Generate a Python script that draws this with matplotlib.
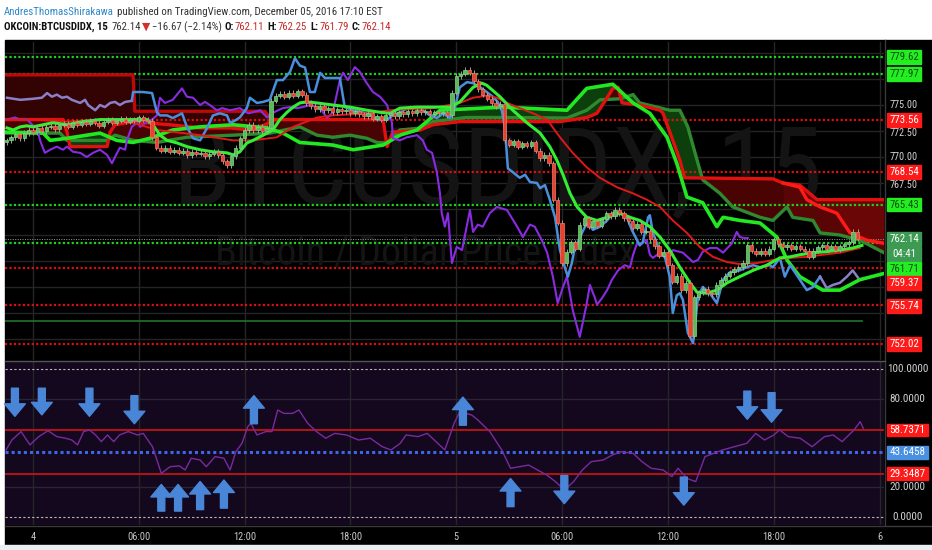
import matplotlib
matplotlib.use('Agg')
import matplotlib.pyplot as plt
import matplotlib.transforms as mtransforms
from matplotlib import font_manager
from matplotlib.lines import Line2D
from matplotlib.patches import Rectangle
import numpy as np

# pick the narrowest sans family that is installed
_installed = {f.name for f in font_manager.fontManager.ttflist}
_narrow = [n for n in ['Liberation Sans Narrow', 'Roboto Condensed', 'DejaVu Sans Condensed', 'Roboto']
           if n in _installed]
NARROW = _narrow[:1] + ['DejaVu Sans']

# ---------------- data ----------------
# 15 min closes, bar -6 .. 187  (bar 0 = Dec 4 00:00)
first_bar = -6
first_open = 771.4
closes = [
    771.6, 771.9, 772.2, 771.8, 772.3, 772.6, 772.4,
    772.8, 772.5, 772.9, 773.0, 772.7, 773.1, 773.2, 772.9, 773.3, 773.1,
    773.4, 773.2, 773.5, 773.3, 773.0, 773.4, 773.6, 773.3, 773.5, 773.7,
    773.4, 773.6, 773.5, 773.8, 773.6, 773.5, 771.9,
    770.9, 770.6, 770.9, 770.5, 770.7, 770.4, 770.6, 770.2, 770.5, 770.3,
    770.4, 770.1, 770.3, 770.5, 770.2, 769.6, 769.2, 770.1, 770.9,
    771.8, 772.6, 773.1, 772.6, 772.9, 772.5, 772.8,
    775.4, 775.9, 776.1, 775.8, 776.2, 775.9, 776.3, 776.0, 775.2,
    774.9, 774.6, 774.9, 774.5, 774.7, 774.3, 774.6, 774.4, 774.5, 774.2,
    774.4, 774.1, 773.9, 774.2, 773.7, 773.9, 773.6, 774.0, 774.2, 773.9,
    774.3, 774.1, 774.4, 774.2, 774.5, 774.3, 774.4, 774.1, 774.3, 774.2,
    774.3, 774.0, 776.2, 777.8,
    778.0, 778.4, 778.1, 777.3, 776.5, 776.0, 775.6, 775.2,
    774.9, 775.1, 771.6, 771.2, 771.5, 771.0, 771.3,
    771.1, 771.4, 770.6, 769.9, 770.2, 769.4,
    765.9, 763.7, 759.8, 760.9, 761.8, 761.2,
    763.5, 764.1, 763.3, 763.8, 763.4, 764.0, 764.6, 764.3,
    764.9, 764.6, 764.1, 763.8, 763.2, 763.6, 762.8,
    762.9, 762.1, 761.4, 760.5, 760.9, 759.6, 758.0,
    758.6, 757.2, 757.9, 752.8, 756.5, 757.0,
    757.3, 756.9, 756.8, 757.7, 758.2, 758.6, 758.9,
    759.2, 759.4, 759.8, 761.5, 761.0, 760.7, 761.0,
    760.7, 761.2, 762.1, 761.6, 761.3, 761.5, 761.2,
    761.4, 761.2, 761.0, 760.4, 761.0, 761.3, 761.5, 761.2,
    761.4, 761.1, 761.4, 761.6, 761.8, 762.8, 762.14,
]

tick_bars = [0, 24, 48, 72, 96, 120, 144, 168, 192]
tick_labels = ['4', '06:00', '12:00', '18:00', '5', '06:00', '12:00', '18:00', '6']

green_levels = [779.62, 777.97, 765.43, 761.71]
red_levels = [773.56, 768.54, 759.37, 755.74, 752.02]
last_price = 762.14
support_level = 754.26

lavender_left = [(-5.9, 775.7), (-2.9, 775.5), (0, 775.6), (2.0, 775.7), (3.2, 776.15), (4.3, 775.8),
                 (5.4, 776.0), (6.6, 775.7), (7.7, 775.8), (8.8, 775.5), (10.7, 775.2), (11.8, 775.5),
                 (12.5, 775.0), (14.1, 774.5), (15.2, 775.0), (16.3, 774.8), (17.5, 775.2), (18.6, 775.3),
                 (19.7, 775.0), (20.9, 775.3), (22.4, 775.4)]
blue_line = [(22.4, 775.4), (22.7, 776.25), (24.9, 776.25), (27.0, 776.15), (28.1, 774.3), (28.8, 774.0),
             (30.4, 774.0), (31.7, 773.75), (33.8, 774.2), (34.9, 772.9), (36.3, 771.8), (37.9, 771.6),
             (39.5, 772.8), (40.8, 774.0), (42.4, 774.2), (44.0, 774.0), (44.7, 773.3), (45.4, 773.4),
             (46.9, 773.8), (48.5, 774.7), (49.2, 775.7), (50.8, 775.2), (52.2, 775.3), (53.7, 775.5),
             (55.3, 777.4), (56.7, 777.4), (58.3, 778.2), (59.4, 779.5), (60.5, 778.8), (61.7, 778.6),
             (62.8, 776.25), (63.9, 776.25), (65.1, 778.1), (66.2, 777.6), (68.0, 777.6), (69.6, 777.6),
             (70.7, 774.8), (72.6, 774.5), (75.7, 774.2), (78.0, 773.6), (80.3, 773.6), (81.6, 774.0),
             (83.2, 774.3), (85.5, 774.8), (87.8, 774.7), (90.0, 774.0), (91.6, 773.75), (93.0, 774.2),
             (94.6, 773.75), (95.7, 774.8), (96.8, 776.7), (98.4, 777.2), (99.8, 777.1), (101.4, 776.7),
             (102.9, 776.25), (104.3, 775.8), (105.4, 775.3), (106.3, 774.5), (107.0, 772.9),
             (107.7, 768.9), (108.8, 768.55), (110.4, 768.0), (111.6, 768.3), (112.7, 767.6),
             (114.3, 767.5), (115.0, 767.0), (116.1, 767.3), (117.2, 765.9), (118.4, 764.2),
             (119.5, 761.05), (120.6, 759.4), (121.3, 758.5), (122.2, 759.8), (122.9, 761.35),
             (123.6, 761.8), (124.5, 762.7), (125.2, 763.3), (125.9, 763.65), (127.0, 763.0),
             (128.6, 763.3), (130.2, 763.9), (131.5, 764.6), (133.1, 764.6), (134.7, 764.2),
             (135.8, 763.0), (137.0, 762.0), (137.6, 761.5), (138.3, 761.8), (139.5, 764.2),
             (139.9, 764.4), (140.6, 762.7), (142.2, 760.9), (143.3, 760.4), (144.4, 758.5),
             (145.1, 755.0), (146.0, 756.7), (146.7, 756.9), (147.4, 756.25), (148.5, 753.1),
             (149.7, 752.1), (150.8, 756.5), (151.9, 757.5), (153.5, 756.9), (155.1, 755.95),
             (156.5, 758.2), (158.0, 758.9), (160.3, 759.1), (161.9, 759.4), (163.3, 759.6),
             (164.9, 759.4), (167.1, 759.6), (167.8, 759.4), (169.4, 760.3), (170.5, 758.5),
             (171.7, 759.6), (173.2, 758.65), (175.5, 757.2), (176.9, 757.5), (178.5, 758.5)]
lavender_right = [(178.5, 758.5), (180.0, 757.4), (181.4, 757.7), (183.0, 757.9), (184.6, 758.5),
                  (185.9, 759.1), (187.1, 758.4)]
purple_line = [(-6.35, 773.65), (-5.9, 773.6), (-4.1, 773.8), (-2.9, 773.6), (-1.4, 773.65), (-0.2, 773.1),
               (0.9, 772.8), (1.6, 771.6), (2.7, 770.4), (3.9, 770.7), (5.4, 771.0), (6.8, 770.7),
               (7.7, 771.0), (9.1, 770.5), (10.7, 770.4), (12.2, 770.0), (13.6, 770.4), (15.2, 770.7),
               (16.8, 770.2), (17.9, 769.4), (18.6, 770.0), (19.7, 770.9), (20.9, 770.7), (21.3, 771.6),
               (22.4, 772.9), (23.6, 773.3), (24.3, 772.9), (25.9, 773.4), (27.0, 773.6), (28.1, 774.0),
               (28.8, 775.7), (29.9, 775.2), (31.7, 775.5), (33.8, 776.6), (34.9, 775.8), (36.3, 775.7),
               (37.9, 775.0), (39.0, 775.3), (40.1, 775.0), (41.7, 774.5), (42.9, 774.7), (44.7, 774.5),
               (46.9, 774.7), (48.8, 774.2), (49.9, 774.3), (51.5, 774.5), (53.1, 773.8), (54.2, 774.2),
               (55.6, 774.5), (56.7, 774.7), (58.3, 774.8), (59.9, 774.7), (61.2, 774.8), (62.8, 775.0),
               (65.1, 774.7), (66.7, 773.75), (68.0, 774.3), (69.6, 777.4), (70.3, 778.1), (71.4, 777.4),
               (73.0, 778.65), (74.1, 778.2), (75.7, 777.1), (77.1, 776.25), (78.7, 775.8), (80.3, 775.0),
               (81.4, 773.3), (81.6, 771.8), (83.2, 771.6), (84.8, 771.9), (87.1, 772.1), (88.4, 771.6),
               (89.3, 770.7), (90.5, 770.4), (91.6, 768.5), (92.3, 766.5), (92.7, 764.6), (93.4, 763.3),
               (94.1, 764.6), (95.0, 759.8), (96.1, 761.35), (97.3, 761.05), (99.1, 764.9), (99.8, 762.8),
               (100.9, 763.5), (102.0, 763.3), (103.6, 764.6), (105.2, 765.2), (107.5, 764.9),
               (109.8, 763.3), (111.1, 762.3), (112.7, 763.5), (113.8, 763.3), (115.4, 762.0),
               (116.6, 760.8), (117.9, 758.5), (119.0, 755.95), (120.2, 757.5), (121.1, 758.5),
               (122.4, 755.3), (124.0, 752.7), (125.6, 755.95), (126.3, 757.7), (127.4, 756.5),
               (127.9, 755.8), (129.0, 756.4), (130.2, 757.2), (131.3, 758.2), (132.7, 759.1),
               (134.2, 759.6), (135.4, 759.4), (136.1, 760.6), (137.0, 761.7), (138.1, 761.7),
               (139.2, 762.0), (139.9, 760.6), (140.6, 760.3), (142.2, 760.8), (143.8, 760.1),
               (145.1, 761.05), (147.4, 760.8), (149.7, 759.9), (150.8, 760.1), (151.9, 760.9),
               (153.5, 761.25), (155.1, 761.25), (156.5, 760.8), (158.5, 761.7), (159.6, 762.8),
               (160.3, 762.3), (161.4, 762.2), (162.1, 762.2)]
fast_ma = [(-5.9, 772.8), (-4.5, 772.6), (-2.9, 772.9), (-1.4, 773.0), (0, 772.9), (2.3, 773.1), (4.5, 773.3),
           (7.7, 773.1), (11.3, 773.4), (15.2, 773.6), (19.0, 773.6), (22.7, 773.6), (25.9, 773.6),
           (27.2, 773.1), (28.8, 772.1), (30.4, 771.6), (32.7, 771.35), (34.9, 771.0), (37.9, 770.7),
           (40.8, 770.5), (44.0, 770.4), (45.4, 770.2), (46.9, 770.5), (48.5, 771.35), (49.9, 771.6),
           (52.2, 772.1), (54.4, 772.6), (56.0, 773.6), (57.6, 774.3), (59.0, 774.8), (60.5, 775.2),
           (62.1, 775.3), (64.4, 775.2), (68.0, 775.0), (71.9, 774.8), (75.7, 774.5), (78.7, 774.3),
           (81.0, 774.2), (83.2, 774.7), (87.1, 774.8), (90.7, 774.8), (94.6, 774.8), (96.8, 775.3),
           (99.8, 776.7), (101.8, 777.1), (102.9, 776.9), (105.9, 775.8), (108.8, 774.5), (112.0, 773.3),
           (115.0, 772.3), (117.2, 771.0), (118.8, 769.7), (120.2, 768.3), (121.8, 766.5), (123.4, 765.2),
           (125.6, 764.2), (127.9, 763.9), (130.2, 764.2), (133.1, 764.6), (135.4, 764.2), (137.6, 763.9),
           (139.9, 763.3), (142.2, 762.3), (144.4, 761.05), (146.7, 759.4), (149.0, 757.9), (150.6, 757.0),
           (152.8, 756.9), (155.1, 757.2), (157.4, 757.9), (160.3, 758.5), (163.3, 759.1), (166.4, 759.6),
           (169.4, 760.3), (171.7, 760.4), (173.9, 760.6), (176.9, 760.8), (180.0, 760.9), (183.0, 761.05),
           (185.9, 761.25), (188.0, 761.5)]
slow_ma = [(-6.35, 773.6), (0, 773.6), (7.7, 773.4), (15.2, 773.6), (22.7, 773.3), (28.1, 772.6), (34.0, 772.3),
           (37.9, 772.1), (45.4, 771.6), (49.9, 771.6), (55.3, 771.9), (59.0, 772.9), (64.4, 773.8),
           (68.0, 774.0), (75.7, 774.2), (81.0, 774.5), (90.7, 774.7), (96.8, 775.2), (99.8, 775.7),
           (102.9, 775.9), (105.2, 775.7), (107.5, 775.2), (110.4, 774.7), (113.4, 774.2), (116.6, 773.6),
           (119.5, 771.9), (122.4, 770.4), (125.6, 769.0), (128.6, 768.0), (132.4, 767.1), (136.1, 766.5),
           (139.2, 765.9), (142.2, 765.2), (145.1, 763.9), (148.3, 762.7), (151.2, 761.35), (154.2, 760.4),
           (157.4, 759.9), (160.3, 759.7), (164.2, 759.8), (167.8, 760.1), (171.7, 760.3), (175.5, 760.4),
           (179.1, 760.6), (183.0, 760.8), (187.5, 761.25)]
kumo_top_left = [(-6.35, 777.9), (22.7, 777.9), (23.1, 774.4), (52.6, 774.4), (53.7, 773.75), (54.9, 773.6)]
span_red = [(-6.35, 773.6), (6.8, 773.6), (7.7, 772.4), (8.4, 771.0), (16.8, 771.0), (17.5, 772.4), (18.6, 773.1),
            (22.7, 773.4), (31.1, 773.1), (37.9, 772.8), (44.7, 772.8), (49.2, 772.6), (52.6, 773.1),
            (54.9, 773.6), (79.4, 773.6), (80.3, 771.0), (81.6, 772.4), (87.8, 772.6), (90.7, 773.1),
            (96.8, 773.4), (119.5, 773.4), (125.6, 773.8), (127.9, 774.2), (130.2, 775.7), (131.5, 776.6),
            (132.7, 776.7), (133.6, 775.2), (137.6, 775.0), (142.2, 774.5), (142.9, 774.2), (145.1, 771.6),
            (146.7, 769.7), (147.8, 768.0), (167.8, 767.9), (170.1, 767.5), (173.9, 767.3), (177.8, 765.9),
            (193.0, 765.9)]
span_red_fall = [(170.1, 767.5), (173.9, 767.1), (175.5, 765.9), (178.5, 765.2), (182.3, 764.6), (185.3, 762.7),
                 (189.1, 762.0), (193.0, 761.7)]
span_dark = [(-6.35, 772.3), (6.1, 772.3), (7.7, 771.6), (16.8, 771.6), (18.6, 772.1), (22.7, 771.6),
             (28.1, 771.4), (34.9, 771.9), (45.4, 772.1), (53.7, 772.3), (60.5, 772.9), (64.4, 772.1),
             (68.0, 771.9), (71.9, 772.1), (75.7, 771.8), (78.0, 771.4), (80.3, 771.35), (83.2, 772.6),
             (88.4, 772.8), (90.7, 773.4), (98.2, 773.8), (105.9, 773.8), (121.1, 773.75), (125.6, 774.5),
             (128.6, 775.5), (133.1, 775.6), (136.1, 776.0), (137.6, 775.2), (144.4, 774.5), (146.7, 774.5),
             (148.5, 772.9), (150.6, 769.7), (151.9, 767.8), (155.8, 766.5), (158.7, 765.2), (164.9, 764.2),
             (167.8, 763.9), (171.0, 765.2), (172.3, 764.2), (176.9, 763.9), (178.5, 762.7), (183.0, 762.5),
             (187.5, 762.0), (193.0, 760.8)]
span_bright = [(-6.35, 772.4), (2.3, 772.3), (3.9, 771.6), (7.7, 771.8), (12.2, 772.1), (15.2, 772.3),
               (19.0, 771.6), (22.7, 771.4), (26.5, 771.8), (31.7, 772.6), (37.9, 772.9), (45.4, 773.1),
               (53.1, 772.8), (56.7, 772.3), (60.5, 771.4), (68.0, 771.15), (72.6, 770.7), (79.4, 771.15),
               (83.2, 772.1), (87.1, 772.6), (92.3, 774.5), (106.6, 774.8), (121.1, 774.5), (125.6, 776.6),
               (131.5, 777.0), (136.1, 775.2), (139.9, 774.2), (143.8, 771.9), (146.0, 769.4), (148.3, 766.15),
               (151.9, 765.6), (155.1, 763.3), (156.5, 764.2), (160.3, 763.9), (164.9, 763.65), (168.7, 762.3),
               (171.0, 760.1), (173.9, 758.5), (179.1, 757.2), (183.0, 757.2), (187.5, 758.2), (193.0, 758.8)]

osc_line = [(-6.1, 45.3), (-4.8, 52.0), (-2.7, 57.7), (-0.7, 48.7), (1.3, 54.3), (3.4, 58.3), (5.4, 54.3),
            (7.4, 53.2), (8.8, 52.0), (10.1, 48.7), (11.5, 57.7), (12.8, 58.8), (14.2, 55.4), (15.5, 50.9),
            (16.9, 55.4), (18.3, 50.9), (19.6, 55.4), (21.6, 57.7), (23.7, 55.4), (25.0, 56.5), (27.1, 47.5),
            (29.1, 29.5), (31.1, 34.0), (33.2, 34.5), (34.5, 31.8), (35.9, 39.7), (37.9, 38.5), (39.3, 34.0),
            (41.3, 40.8), (43.3, 39.7), (44.7, 31.8), (46.0, 44.1), (47.4, 49.8), (48.7, 61.0), (49.4, 63.3),
            (50.8, 55.4), (52.8, 57.7), (54.2, 57.7), (55.5, 72.3), (56.9, 70.0), (58.9, 70.0), (60.3, 72.3),
            (62.3, 63.3), (64.3, 57.7), (66.4, 53.2), (68.4, 56.5), (71.1, 55.4), (73.8, 52.0), (76.5, 53.2),
            (79.2, 47.5), (81.2, 45.3), (83.3, 49.8), (84.6, 55.4), (87.3, 54.3), (89.4, 56.5), (91.4, 50.9),
            (93.4, 45.3), (95.5, 63.3), (96.8, 71.2), (99.5, 68.9), (100.9, 65.5), (103.6, 57.7),
            (106.3, 45.3), (108.3, 32.9), (110.4, 34.0), (112.4, 35.1), (114.4, 31.8), (116.5, 28.4),
            (118.5, 23.9), (120.5, 18.3), (122.6, 23.9), (124.6, 31.8), (126.6, 37.4), (129.3, 38.5),
            (131.4, 41.9), (133.4, 44.1), (136.1, 43.0), (138.1, 37.4), (140.2, 32.9), (142.9, 31.8),
            (144.9, 27.3), (146.3, 32.9), (148.3, 26.1), (150.3, 23.9), (152.4, 40.8), (154.4, 43.0),
            (156.4, 45.3), (159.1, 47.5), (161.9, 49.8), (163.9, 56.5), (165.9, 52.0), (168.0, 55.4),
            (169.3, 58.8), (171.3, 54.3), (174.0, 53.2), (176.7, 47.5), (179.5, 54.3), (181.5, 55.4),
            (183.5, 50.9), (186.2, 58.8), (187.6, 64.4), (188.3, 59.9)]
osc_upper, osc_mid, osc_lower = 58.7371, 43.6458, 29.3487

# signal arrows: (bar, tail value, tip value)
signal_arrows = [(-4.1, 87, 68), (2.0, 87, 69), (12.8, 87, 68), (23.0, 82, 63), (162.0, 85, 66), (167.5, 84, 64),
                 (50.1, 63, 82), (97.5, 62, 81),
                 (29.1, 4, 22), (32.9, 4, 22), (37.9, 5, 24), (43.3, 6, 25), (108.3, 7, 26),
                 (120.5, 28, 9), (147.6, 27, 8)]

main_labels = ['779.62', '777.97', '775.00', '773.56', '772.50', '770.00', '768.54', '767.50',
               '765.43', '762.14', '04:41', '761.71', '759.37', '755.74', '752.02']
main_label_pos = [779.62, 777.97, 775.00, 773.56, 772.30, 770.00, 768.54, 767.30,
                  765.43, 762.14, 760.67, 759.23, 757.88, 755.67, 752.02]
main_label_kind = ['g', 'g', 'p', 'r', 'p', 'p', 'r', 'p', 'g', 'c', 'c', 'g', 'r', 'r', 'r']
osc_labels = ['100.0000', '80.0000', '58.7371', '43.6458', '29.3487', '20.0000', '0.0000']
osc_label_pos = [100, 80, 58.7371, 43.6458, 29.3487, 20, 0]
osc_label_kind = ['p', 'p', 'r', 'b', 'r', 'p', 'p']

# ---------------- figure ----------------
W, H = 932, 550
fig = plt.figure(figsize=(W / 100, H / 100), dpi=100, facecolor='white')
renderer = fig.canvas.get_renderer()


def fx(px):
    return px / W


def fy(py):
    return 1 - py / H


def fit_width(t, target_px):
    # scale the font so the text spans target_px
    w = t.get_window_extent(renderer).width
    t.set_fontsize(t.get_fontsize() * target_px / w)


fig.patches.append(Rectangle((fx(5), fy(545)), fx(927), 505 / H, transform=fig.transFigure,
                             color='black', zorder=-5))
fig.patches.append(Rectangle((0, 0), 1, 5 / H, transform=fig.transFigure, color='#eceff2', zorder=-5))

ax = fig.add_axes([fx(5), fy(360), fx(879), 318 / H], facecolor='black')
ax2 = fig.add_axes([fx(5), fy(525), fx(879), 163 / H], facecolor='#13081e')
for a in (ax, ax2):
    for s in a.spines.values():
        s.set_visible(False)
    a.set_xlim(-6.35, 193.0)
    for b in tick_bars:
        a.axvline(b, color='#262626', lw=1, zorder=0.2)
ax.set_ylim(750.48, 781.06)
ax2.set_ylim(-5.4, 104.7)
ax.set_xticks([])
ax.set_yticks([])
ax2.set_yticks([])

for v in np.arange(752.5, 781, 2.5):
    ax.axhline(v, color='#242424', lw=1, zorder=0.2)
for v in (20, 80):
    ax2.axhline(v, color='#2c2433', lw=1, zorder=0.2)

# watermark
wm = ax.text(0.56, 0.585, 'BTCUSDIDX, 15', transform=ax.transAxes, ha='center', va='center',
             fontsize=60, color='#141414', family=NARROW, zorder=0.3)
fit_width(wm, 650)
wm2 = ax.text(0.478, 0.335, 'Bitcoin / Dollar Price Index', transform=ax.transAxes, ha='center',
              va='center', fontsize=28, color='#141414', family=NARROW, zorder=0.3)
fit_width(wm2, 420)


def xy(line):
    xs, ys = zip(*line)
    return np.array(xs), np.array(ys)


xf = np.linspace(-6.35, 193.0, 2400)


def on_grid(line):
    xs, ys = xy(line)
    return np.interp(xf, xs, ys, left=np.nan, right=np.nan)


r1 = on_grid(kumo_top_left)
rs = on_grid(span_red)
rf = on_grid(span_red_fall)
dk = on_grid(span_dark)
br = on_grid(span_bright)

ax.fill_between(xf, r1, rs, where=~np.isnan(r1), color='#330202', lw=0, zorder=0.6)
ax.fill_between(xf, rs, dk, where=rs >= dk, color='#4a0303', lw=0, zorder=0.6, interpolate=True)
ax.fill_between(xf, rf, rs, where=~np.isnan(rf), color='#6a0606', lw=0, zorder=0.65)
ax.fill_between(xf, rf, dk, where=(~np.isnan(rf)) & (rf > dk), color='#5a0505', lw=0, zorder=0.65)
ax.fill_between(xf, rs, dk, where=dk > rs, color='#0c3f0c', lw=0, zorder=0.6, interpolate=True)
top2 = np.maximum(rs, dk)
ax.fill_between(xf, top2, br, where=br > top2, color='#0c3f0c', lw=0, zorder=0.6, interpolate=True)

# horizontal levels
for v in green_levels:
    ax.axhline(v, color='#1fd11f', lw=1.6, ls=(0, (1, 1)), zorder=2)
for v in red_levels:
    ax.axhline(v, color='#d81010', lw=1.6, ls=(0, (1, 1)), zorder=2)
ax.axhline(last_price, color='#9a9a9a', lw=0.7, ls=(0, (1, 1.5)), zorder=2)
ax.plot([-6.35, 188.0], [support_level, support_level], color='#1f6a2a', lw=1.3, zorder=1.5)

# indicator lines
ax.plot(*xy(kumo_top_left), color='#c00808', lw=2.4, zorder=3)
ax.plot(*xy(span_dark), color='#2f8a2f', lw=2.4, zorder=3)
ax.plot(*xy(span_red), color='#e31010', lw=2.4, zorder=3)
ax.plot(*xy(span_red_fall), color='#ff1a1a', lw=2.4, zorder=3)
ax.plot(*xy(span_bright), color='#22e822', lw=2.6, zorder=3.1)
ax.plot(*xy(purple_line), color='#8a2be2', lw=1.5, zorder=3.2)
ax.plot(*xy(lavender_left), color='#8a80c8', lw=1.8, zorder=3.2)
ax.plot(*xy(blue_line), color='#4a8fdb', lw=1.8, zorder=3.2)
ax.plot(*xy(lavender_right), color='#8a80c8', lw=1.8, zorder=3.2)
ax.plot(*xy(slow_ma), color='#e01818', lw=1.4, zorder=3.3)
ax.plot(*xy(fast_ma), color='#33ee33', lw=2.2, zorder=3.4)

# candles
c = np.array(closes)
o = np.concatenate([[first_open], c[:-1]])
bars = np.arange(len(c)) + first_bar
up = c >= o
body_lo = np.minimum(o, c)
body_h = np.maximum(np.abs(c - o), 0.08)
ax.vlines(bars, body_lo - 0.25, body_lo + body_h + 0.25, color='#a0a0a0', lw=0.7, zorder=4)
ax.bar(bars[up], body_h[up], bottom=body_lo[up], width=0.75, color='#5cb85c', edgecolor='#86d886',
       lw=0.5, zorder=4.5)
ax.bar(bars[~up], body_h[~up], bottom=body_lo[~up], width=0.75, color='#e8412c', edgecolor='#f27a68',
       lw=0.5, zorder=4.5)

# oscillator
ax2.axhline(100, color='#bbbbbb', lw=0.8, ls=(0, (2, 2)), zorder=1)
ax2.axhline(0, color='#bbbbbb', lw=0.8, ls=(0, (2, 2)), zorder=1)
ax2.axhline(osc_upper, color='#d21414', lw=1.2, zorder=1)
ax2.axhline(osc_lower, color='#d21414', lw=1.2, zorder=1)
ax2.axhline(osc_mid, color='#4066e8', lw=2.2, ls=(0, (1, 1)), zorder=1)
ax2.plot(*xy(osc_line), color='#7b2a9e', lw=1.0, zorder=2)
for b, tail, tip in signal_arrows:
    ax2.annotate('', xy=(b, tip), xytext=(b, tail),
                 arrowprops=dict(arrowstyle='simple,head_length=0.9,head_width=1.5,tail_width=0.5',
                                 color='#4a86d8', shrinkA=0, shrinkB=0, mutation_scale=10), zorder=3)

ax2.set_xticks(tick_bars, tick_labels)
ax2.tick_params(axis='x', colors='#c8c8c8', labelsize=7.5, length=0, pad=5)
for lab in ax2.get_xticklabels():
    lab.set_family(NARROW)

# right-hand price labels
LABEL_STYLE = {'p': (None, '#d0d0d0'), 'g': ('#22ee22', '#0b4d0b'), 'r': ('#ff1a1a', 'white'),
               'c': ('#3c9a52', 'white'), 'b': ('#4a90e2', 'white')}


def draw_labels(axis, texts, positions, kinds, box_w, box_h, size):
    tr = mtransforms.blended_transform_factory(fig.transFigure, axis.transData)
    for t, p, k in zip(texts, positions, kinds):
        bg, fg = LABEL_STYLE[k]
        if bg:
            axis.add_patch(Rectangle((fx(887), p - box_h / 2), fx(box_w), box_h, transform=tr,
                                     color=bg, clip_on=False, zorder=9))
        axis.text(fx(887 + box_w / 2), p, t, transform=tr, ha='center', va='center', fontsize=size,
                  family=NARROW, color=fg, clip_on=False, zorder=10)


plain = [i for i, k in enumerate(main_label_kind) if k == 'p']
boxed = [i for i, k in enumerate(main_label_kind) if k != 'p']
draw_labels(ax, [main_labels[i] for i in plain], [main_label_pos[i] for i in plain],
            ['p'] * len(plain), 34, 1.3, 7.4)
draw_labels(ax, [main_labels[i] for i in boxed], [main_label_pos[i] for i in boxed],
            [main_label_kind[i] for i in boxed], 34, 1.3, 7.8)
draw_labels(ax2, osc_labels, osc_label_pos, osc_label_kind, 41, 8.5, 8.0)

# frame lines
fig.add_artist(Line2D([fx(884.5), fx(884.5)], [fy(525), fy(40)], color='#3a3a3a', lw=1))
fig.add_artist(Line2D([fx(5), fx(884.5)], [fy(361), fy(361)], color='#555555', lw=1))
fig.add_artist(Line2D([fx(5), fx(932)], [fy(525.5), fy(525.5)], color='#3a3a3a', lw=1))


# header
def header_line(y_px, parts, target_px, size=8.5):
    while True:
        x = fx(4)
        made = []
        for s, color, weight, gap in parts:
            t = fig.text(x, fy(y_px), s, color=color, fontweight=weight, fontsize=size, family=NARROW,
                         va='baseline', ha='left')
            made.append(t)
            x = t.get_window_extent(renderer).x1 / W + fx(gap)
        width = x * W - 4
        if width <= target_px * 1.03:
            return
        for t in made:
            t.remove()
        size = size * target_px / width


header_line(15, [('AndresThomasShirakawa', '#2d87c8', 'normal', 3),
                 ('published on TradingView.com, December 05, 2016 17:10 EST', '#333333', 'normal', 0)], 376)
header_line(30, [('OKCOIN:BTCUSDIDX, 15', '#111111', 'bold', 4),
                 ('762.14', '#333333', 'normal', 1),
                 ('\u25bc', '#d32f2f', 'normal', 1),
                 ('\u221216.67 (\u22122.14%)', '#333333', 'normal', 3),
                 ('O:', '#111111', 'bold', 1),
                 ('762.11', '#c62828', 'normal', 3),
                 ('H:', '#111111', 'bold', 1),
                 ('762.25', '#c62828', 'normal', 3),
                 ('L:', '#111111', 'bold', 1),
                 ('761.79', '#c62828', 'normal', 3),
                 ('C:', '#111111', 'bold', 1),
                 ('762.14', '#c62828', 'normal', 0)], 384)

fig.savefig('out.png', dpi=100, facecolor=fig.get_facecolor())
